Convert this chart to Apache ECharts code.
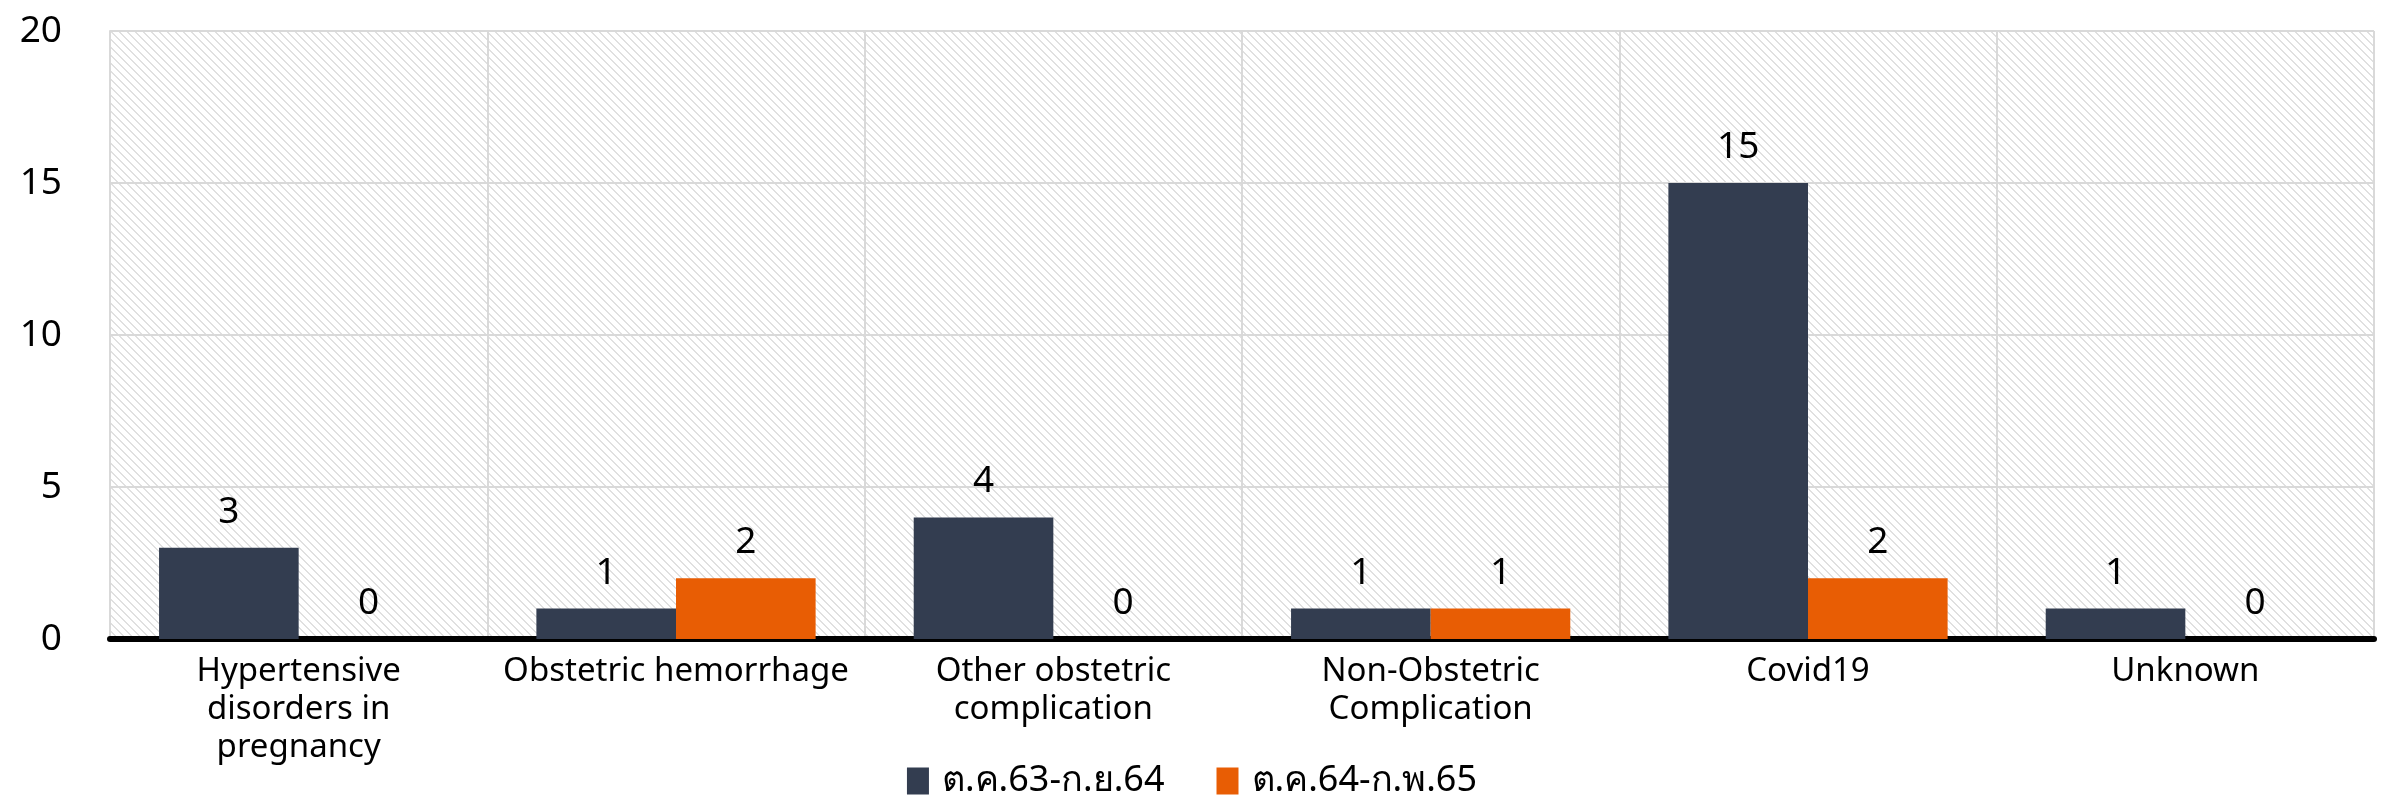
<!DOCTYPE html>
<html>
<head>
<meta charset="utf-8">
<script src="https://cdn.jsdelivr.net/npm/echarts@6/dist/echarts.min.js"></script>
<style>
  html, body { margin: 0; padding: 0; background: #ffffff; }
  #chart { width: 2384px; height: 800px; }
</style>
</head>
<body>
<div id="chart"></div>
<script>
// Causes of maternal death, two reporting periods
const categories = [
  'Hypertensive\ndisorders in\npregnancy',
  'Obstetric hemorrhage',
  'Other obstetric\ncomplication',
  'Non-Obstetric\nComplication',
  'Covid19',
  'Unknown'
];
const seriesNames = ['ต.ค.63-ก.ย.64', 'ต.ค.64-ก.พ.65'];
const period1 = [3, 1, 4, 1, 15, 1];
const period2 = [0, 2, 0, 1, 2, 0];

const FONT = '"Noto Sans", "DejaVu Sans", sans-serif';

// Light downward-diagonal hatch for the plot background
function hatchPattern() {
  const c = document.createElement('canvas');
  c.width = 8; c.height = 8;
  const ctx = c.getContext('2d');
  ctx.fillStyle = '#ffffff';
  ctx.fillRect(0, 0, 8, 8);
  ctx.fillStyle = '#e0e0e0';
  for (let i = 0; i < 8; i++) {
    ctx.fillRect(i, i, 1, 1);
    ctx.fillRect(i, (i + 1) % 8, 1, 1);
  }
  return { image: c, repeat: 'repeat' };
}

const chart = echarts.init(document.getElementById('chart'), null, { renderer: 'canvas' });

const labelStyle = {
  show: true,
  position: 'top',
  distance: 17,
  color: '#000000',
  fontSize: 37,
  fontFamily: FONT
};

chart.setOption({
  animation: false,
  textStyle: { fontFamily: FONT },
  grid: {
    left: 110, right: 10, top: 31, bottom: 161,
    show: true,
    backgroundColor: hatchPattern(),
    borderWidth: 0
  },
  legend: {
    data: seriesNames,
    bottom: -4,
    left: 'center',
    itemWidth: 22,
    itemHeight: 27,
    itemGap: 52,
    icon: 'rect',
    textStyle: { fontSize: 36, color: '#000000', fontFamily: FONT, padding: [0, 0, 0, 8] }
  },
  xAxis: {
    type: 'category',
    data: categories,
    axisTick: { show: false },
    axisLine: { show: true, lineStyle: { color: '#000000', width: 6 } },
    axisLabel: {
      interval: 0,
      margin: 14,
      color: '#000000',
      fontSize: 33,
      lineHeight: 38,
      fontFamily: FONT
    },
    splitLine: { show: true, lineStyle: { color: '#d9d9d9', width: 2 } }
  },
  yAxis: {
    type: 'value',
    min: 0,
    max: 20,
    interval: 5,
    axisLine: { show: true, lineStyle: { color: '#d9d9d9', width: 2 } },
    axisTick: { show: false },
    axisLabel: {
      margin: 48,
      color: '#000000',
      fontSize: 37,
      fontFamily: FONT
    },
    splitLine: { show: true, lineStyle: { color: '#d9d9d9', width: 2 } }
  },
  series: [
    {
      name: seriesNames[0],
      type: 'bar',
      data: period1,
      barGap: '0%',
      barCategoryGap: '26%',
      itemStyle: { color: '#333d50' },
      label: labelStyle
    },
    {
      name: seriesNames[1],
      type: 'bar',
      data: period2,
      itemStyle: { color: '#e85d04' },
      label: labelStyle
    }
  ]
});
</script>
</body>
</html>
